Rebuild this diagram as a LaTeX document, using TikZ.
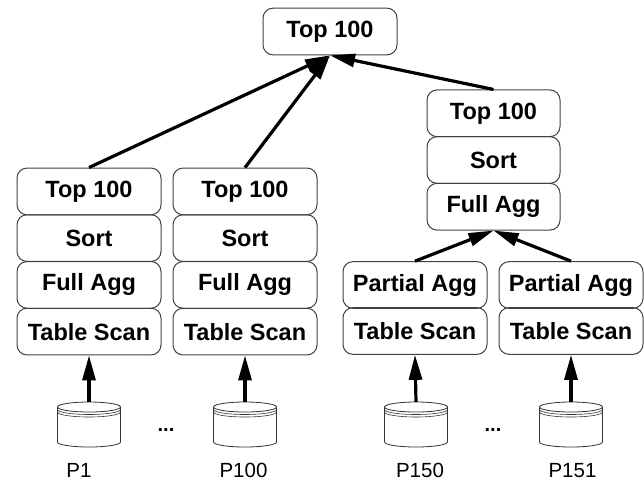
\documentclass[tikz,border=0pt]{standalone}
\usepackage{fontspec}
\setmainfont{Liberation Sans}
\usetikzlibrary{arrows.meta}
\tikzset{
  opbox/.style={draw=black!75, line width=1pt, rounded corners=10pt,
    minimum width=#1, minimum height=46.7pt, inner sep=0pt,
    font=\bfseries\fontsize{23.5}{23.5}\selectfont},
  opbox/.default=144pt,
  flow/.style={line width=3.2pt, -{Triangle[length=25pt,width=13pt]}},
  lbl/.style={font=\fontsize{20.5}{20.5}\selectfont, inner sep=0pt, anchor=base},
  dots/.style={font=\bfseries\fontsize{20}{20}\selectfont, inner sep=0pt},
  disk/.style={draw=black!80, line width=0.8pt}
}
\newcommand{\mydisk}[3]{%
  \node[minimum width=63pt, minimum height=45pt, inner sep=0pt] (#1) at (#2,#3) {};
  \begin{scope}[shift={(#2,#3)}]
    \draw[disk, fill=white] (-31.5,-17.5) -- (-31.5,17.5) arc[start angle=180,end angle=360,x radius=31.5,y radius=-5] -- (31.5,-17.5) -- cycle;
    \draw[disk, fill=white] (0,-17.5) ellipse[x radius=31.5, y radius=5];
    \draw[disk, line width=0.6pt] (-31.5,-15) arc[start angle=180,end angle=360,x radius=31.5,y radius=-5];
    \draw[disk, line width=0.6pt] (-31.5,-12.5) arc[start angle=180,end angle=360,x radius=31.5,y radius=-5];
  \end{scope}
}
\begin{document}
\begin{tikzpicture}[x=1pt,y=-1pt]
\useasboundingbox (0,0) rectangle (644,480);
% top
\node[opbox=134pt] (top) at (330,31.5) {Top 100};
% left column 1
\node[opbox] (a1) at (89,191.4) {Top 100};
\node[opbox] (a2) at (89,238.1) {Sort};
\node[opbox] (a3) at (89,284.9) {Full Agg};
\node[opbox] (a4) at (89,331.6) {Table Scan};
% column 2
\node[opbox] (b1) at (245,191.4) {Top 100};
\node[opbox] (b2) at (245,238.1) {Sort};
\node[opbox] (b3) at (245,284.9) {Full Agg};
\node[opbox] (b4) at (245,331.6) {Table Scan};
% right upper
\node[opbox=133pt] (c1) at (493.5,113.3) {Top 100};
\node[opbox=133pt] (c2) at (493.5,160) {Sort};
\node[opbox=133pt] (c3) at (493.5,206.7) {Full Agg};
% partials
\node[opbox] (d1) at (415,285) {Partial Agg};
\node[opbox] (d2) at (415,331) {Table Scan};
\node[opbox] (e1) at (571,285) {Partial Agg};
\node[opbox] (e2) at (571,331) {Table Scan};
% disks
\mydisk{p1}{89}{424.5}
\mydisk{p100}{245}{424.5}
\mydisk{p150}{416}{424.5}
\mydisk{p151}{571}{424.5}
% labels
\node[lbl] (l1) at (79,477) {P1};
\node[lbl] (l2) at (243.5,477) {P100};
\node[lbl] (l3) at (420,477) {P150};
\node[lbl] (l4) at (572.5,477) {P151};
\node[dots] (dl) at (166,430) {...};
\node[dots] (dr) at (493,430) {...};
% arrows
\draw[flow] (a1.north) -- (top.south);
\draw[flow] (b1.north) -- (top.south);
\draw[flow] (c1.north) -- (top.south);
\draw[flow] (d1.north) -- (c3.south);
\draw[flow] (e1.north) -- (c3.south);
\draw[flow] (p1.north) -- (a4.south);
\draw[flow] (p100.north) -- (b4.south);
\draw[flow] (p150.north) -- (d2.south);
\draw[flow] (p151.north) -- (e2.south);
\end{tikzpicture}
\end{document}
